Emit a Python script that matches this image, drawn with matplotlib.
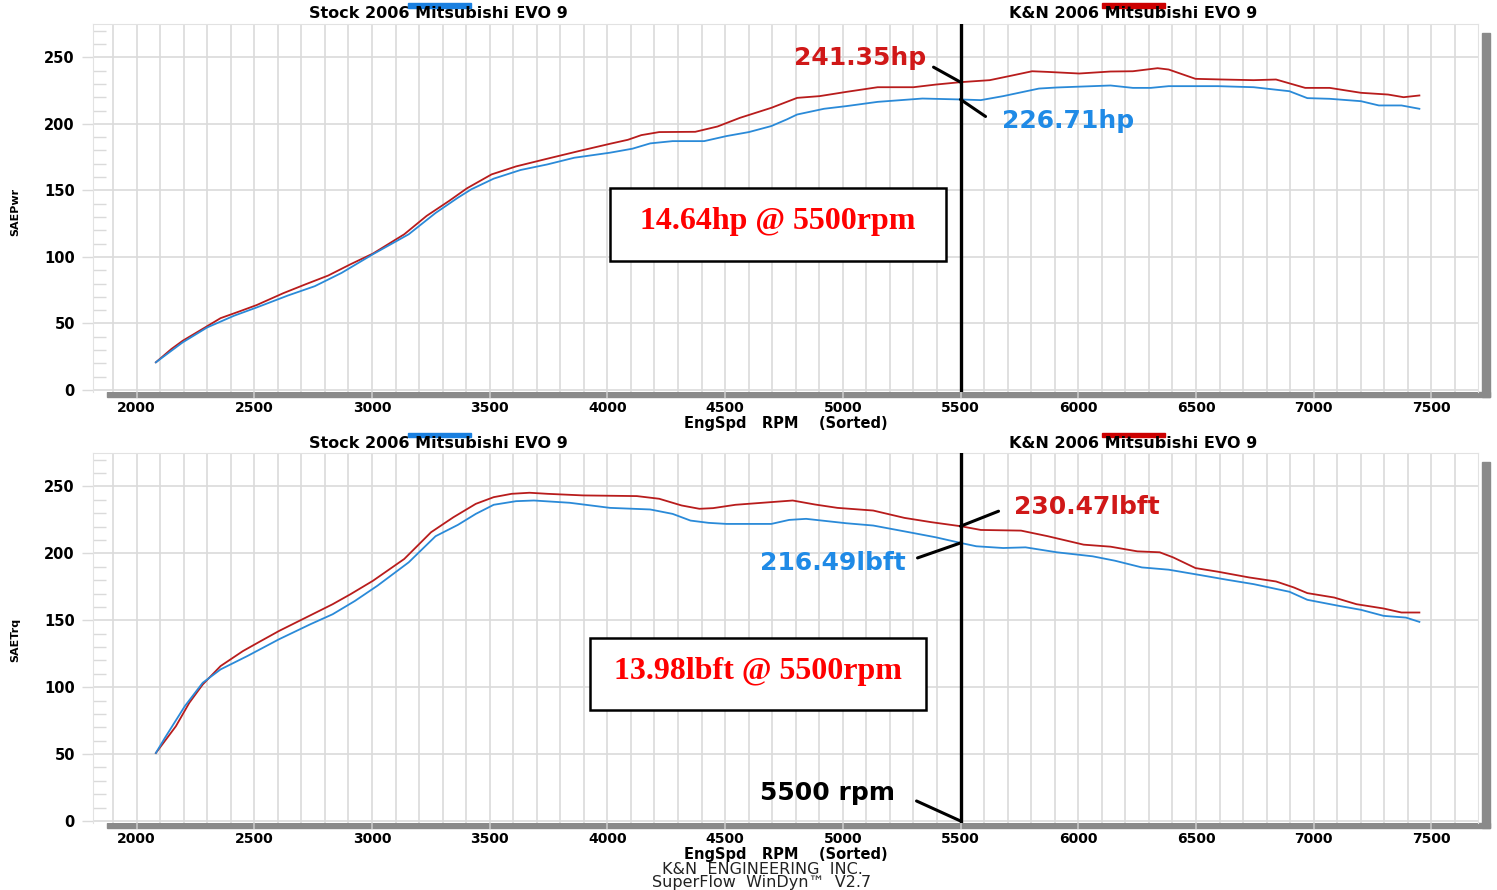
import numpy as np
import matplotlib
matplotlib.use("Agg")
import matplotlib.pyplot as plt
from matplotlib.patches import Rectangle

# ---------------- data ----------------
hp_rpm_kn = [2082, 2148, 2196, 2291, 2357, 2433, 2510, 2624, 2719, 2814, 2909, 3004, 3137, 3232, 3327,
             3403, 3508, 3612, 3745, 3878, 4011, 4087, 4144, 4220, 4373, 4468, 4563, 4696, 4806, 4901,
             5015, 5148, 5300, 5395, 5500, 5624, 5719, 5804, 5871, 6004, 6137, 6232, 6337, 6384, 6498,
             6612, 6745, 6840, 6964, 7068, 7201, 7316, 7382, 7449]
hp_kn = [20.8, 30.8, 37, 47, 54, 58.8, 63.8, 72.8, 79.5, 86, 94.5, 102.5, 117, 130.8, 142,
         151.5, 162, 168, 173.8, 179.5, 185, 188, 191.5, 193.8, 194, 198, 204.5, 212, 219.5, 220.8,
         224, 227.5, 227.5, 229.5, 231.3, 232.8, 236.3, 239.5, 239, 237.8, 239.3, 239.5, 241.8, 240.8, 233.8,
         233.3, 232.8, 233.3, 227, 227, 223.3, 222, 220, 221.3]

hp_rpm_stock = [2082, 2196, 2300, 2414, 2510, 2643, 2757, 2871, 3004, 3156, 3270, 3365, 3422, 3517, 3631,
                3745, 3859, 4011, 4106, 4182, 4277, 4411, 4506, 4601, 4696, 4762, 4806, 4920, 5015, 5148,
                5338, 5500, 5586, 5681, 5833, 5909, 6061, 6137, 6232, 6308, 6384, 6593, 6745, 6897, 6973,
                7068, 7201, 7277, 7373, 7449]
hp_stock = [20.8, 35.8, 47, 55.8, 62, 71, 78, 88, 102, 117, 133, 144.5, 150.8, 158.8, 165.3,
            169.5, 174.5, 178.3, 181.3, 185.3, 187, 187, 190.8, 193.8, 198.3, 203.3, 207, 211.3, 213.3, 216.5,
            219, 218.3, 217.8, 220.8, 226.5, 227.3, 228.3, 228.8, 227, 227, 228.3, 228.3, 227.5, 224.5, 219.3,
            218.8, 217, 213.8, 213.8, 211.3]

tq_rpm_kn = [2082, 2167, 2224, 2281, 2357, 2452, 2528, 2605, 2719, 2833, 2909, 3004, 3137, 3251, 3346,
             3441, 3517, 3593, 3669, 3745, 3897, 4125, 4220, 4315, 4391, 4449, 4544, 4696, 4787, 4882,
             4977, 5129, 5262, 5376, 5500, 5586, 5757, 5871, 6023, 6137, 6251, 6346, 6403, 6498, 6593,
             6726, 6840, 6916, 6973, 7087, 7182, 7297, 7373, 7449]
tq_kn = [50.8, 70.8, 88.3, 102, 115.8, 127, 134.5, 142, 152, 162, 169.5, 179.5, 195.8, 215.8, 227,
         237, 242, 244.5, 245.3, 244.5, 243.3, 242.8, 240.8, 235.8, 233.3, 233.8, 236.3, 238.3, 239.5, 236.5,
         234, 232, 226.5, 223.3, 220.3, 217.5, 217, 212.8, 206.5, 205, 201.5, 200.8, 197, 189, 186.3,
         182, 179, 174.5, 170.3, 167, 162, 158.8, 155.8, 155.8]

tq_rpm_stock = [2082, 2120, 2205, 2281, 2357, 2471, 2605, 2738, 2833, 2928, 3023, 3156, 3270, 3365, 3441,
                3517, 3612, 3688, 3840, 4011, 4182, 4277, 4353, 4430, 4506, 4696, 4772, 4844, 5015, 5129,
                5281, 5395, 5500, 5567, 5681, 5776, 5909, 6061, 6156, 6270, 6384, 6517, 6631, 6745, 6897,
                6973, 7106, 7201, 7297, 7392, 7449]
tq_stock = [50.8, 62, 85.8, 103.3, 113.3, 123.3, 135.8, 147, 154.5, 164.5, 175.8, 193.3, 212.8, 221.3, 229.5,
            236.3, 239, 239.5, 237.8, 234, 232.8, 229.5, 224.5, 222.8, 222, 222, 225, 225.8, 222.5, 220.8,
            215.8, 212, 207.8, 205.3, 204, 204.5, 200.8, 197.8, 194.5, 189.5, 187.8, 183.8, 180.3, 177, 171.3,
            165.3, 160.8, 157.8, 153.3, 152, 148.8]

x_ticks = [2000, 2500, 3000, 3500, 4000, 4500, 5000, 5500, 6000, 6500, 7000, 7500]
y_ticks = [0, 50, 100, 150, 200, 250]
mark_rpm = 5500
series_names = ["Stock 2006 Mitsubishi EVO 9", "K&N 2006 Mitsubishi EVO 9"]
hp_labels = ["241.35hp", "226.71hp"]
tq_labels = ["230.47lbft", "216.49lbft"]
hp_gain = "14.64hp @ 5500rpm"
tq_gain = "13.98lbft @ 5500rpm"

# ---------------- figure ----------------
W, H = 1497, 890
fig = plt.figure(figsize=(W / 100, H / 100), dpi=100)
fig.patch.set_facecolor("white")

def fx(px):
    return px / W

def fy(py):
    return 1 - py / H

RED = "#b81c1c"
BLUE = "#2a8ad8"
GRID = "#dadada"
BAR = "#8a8a8a"
TXT_RED = "#d01818"
TXT_BLUE = "#1f8ae6"

ax_left, ax_right = 93, 1478
panels = [
    dict(top=24, bottom=392, ylabel="SAEPwr", ylab_y=212,
         stock=(hp_rpm_stock, hp_stock), kn=(hp_rpm_kn, hp_kn), title_y=14, bar_y=3, xlab_y=423),
    dict(top=453, bottom=823, ylabel="SAETrq", ylab_y=640,
         stock=(tq_rpm_stock, tq_stock), kn=(tq_rpm_kn, tq_kn), title_y=443, bar_y=432, xlab_y=854),
]

line_kw = dict(arrowstyle="-", lw=2.2, color="black", shrinkA=0, shrinkB=0)

axes = []
for p in panels:
    ax = fig.add_axes([fx(ax_left), fy(p["bottom"]), fx(ax_right) - fx(ax_left), (p["bottom"] - p["top"]) / H])
    ax.set_xlim(1815, 7698)
    ax.set_ylim(-1.5, 275)
    ax.set_xticks(x_ticks)
    ax.set_xticks(np.arange(1900, 7700, 100), minor=True)
    ax.set_yticks(y_ticks)
    ax.set_yticks(np.arange(0, 275, 10), minor=True)
    ax.grid(True, which="both", axis="x", color=GRID, lw=1.2)
    ax.grid(True, which="major", axis="y", color=GRID, lw=1.2)
    ax.set_axisbelow(True)
    for s in ax.spines.values():
        s.set_color("#e2e2e2")
    ax.spines["bottom"].set_visible(False)
    ax.tick_params(axis="x", which="major", direction="out", length=4, width=1.2, color="#c8c8c8", pad=2.5,
                   labelsize=10)
    ax.tick_params(axis="x", which="minor", length=0)
    ax.tick_params(axis="y", which="major", direction="out", length=8, width=1, color=GRID, pad=5,
                   labelsize=10.5)
    ax.tick_params(axis="y", which="minor", direction="in", length=9, width=1, color=GRID)
    for lab in ax.get_xticklabels() + ax.get_yticklabels():
        lab.set_fontweight("bold")

    ax.plot(p["kn"][0], p["kn"][1], color=RED, lw=1.3, zorder=3)
    ax.plot(p["stock"][0], p["stock"][1], color=BLUE, lw=1.3, zorder=3)
    ax.axvline(mark_rpm, color="black", lw=2.4, zorder=4)
    axes.append(ax)

    # 3D-like gray frame bars
    fig.add_artist(Rectangle((fx(107), fy(p["bottom"] + 5)), fx(1490) - fx(107), 5 / H,
                             transform=fig.transFigure, color=BAR, zorder=-1))
    fig.add_artist(Rectangle((fx(1482), fy(p["bottom"] + 5)), 8 / W, (p["bottom"] + 5 - p["top"] - 9) / H,
                             transform=fig.transFigure, color=BAR, zorder=-1))

    # titles with color bars
    fig.text(fx(438), fy(p["title_y"]), series_names[0], ha="center", va="center",
             fontsize=11.5, fontweight="bold")
    fig.add_artist(Rectangle((fx(408), fy(p["bar_y"] + 5)), 63 / W, 4.5 / H,
                             transform=fig.transFigure, color="#1a80e0"))
    fig.text(fx(1133), fy(p["title_y"]), series_names[1], ha="center", va="center",
             fontsize=11.5, fontweight="bold")
    fig.add_artist(Rectangle((fx(1102), fy(p["bar_y"] + 5)), 63 / W, 4.5 / H,
                             transform=fig.transFigure, color="#cc0000"))

    fig.text(fx(786), fy(p["xlab_y"]), "EngSpd   RPM    (Sorted)", ha="center", va="center",
             fontsize=10.5, fontweight="bold")
    fig.text(fx(15), fy(p["ylab_y"]), p["ylabel"], ha="center", va="center", rotation=90,
             fontsize=8, fontweight="bold")

ax1, ax2 = axes

# top annotations
ax1.annotate("", xy=(mark_rpm, np.interp(mark_rpm, hp_rpm_kn, hp_kn)), xytext=(-27, 15),
             textcoords="offset pixels", arrowprops=line_kw)
ax1.annotate("", xy=(mark_rpm, np.interp(mark_rpm, hp_rpm_stock, hp_stock)), xytext=(25, -17),
             textcoords="offset pixels", arrowprops=line_kw)
fig.text(fx(860), fy(58), hp_labels[0], ha="center", va="center", fontsize=18, fontweight="bold",
         color=TXT_RED)
fig.text(fx(1068), fy(121), hp_labels[1], ha="center", va="center", fontsize=18, fontweight="bold",
         color=TXT_BLUE)

# bottom annotations
ax2.annotate("", xy=(mark_rpm, np.interp(mark_rpm, tq_rpm_kn, tq_kn)), xytext=(38, 15),
             textcoords="offset pixels", arrowprops=line_kw)
ax2.annotate("", xy=(mark_rpm, np.interp(mark_rpm, tq_rpm_stock, tq_stock)), xytext=(-43, -15),
             textcoords="offset pixels", arrowprops=line_kw)
ax2.annotate("", xy=(mark_rpm, 0), xytext=(-44, 20), textcoords="offset pixels", arrowprops=line_kw)
fig.text(fx(1087), fy(507), tq_labels[0], ha="center", va="center", fontsize=18, fontweight="bold",
         color=TXT_RED)
fig.text(fx(833), fy(563), tq_labels[1], ha="center", va="center", fontsize=18, fontweight="bold",
         color=TXT_BLUE)
fig.text(fx(828), fy(793), "5500 rpm", ha="center", va="center", fontsize=18, fontweight="bold",
         color="black")

# gain boxes
for (x0, y0, x1, y1, txt) in [(610, 188, 946, 261, hp_gain), (590, 638, 926, 710, tq_gain)]:
    fig.add_artist(Rectangle((fx(x0), fy(y1)), (x1 - x0) / W, (y1 - y0) / H, transform=fig.transFigure,
                             facecolor="white", edgecolor="black", lw=1.8, zorder=6))
    t = fig.text(fx((x0 + x1) / 2), fy((y0 + y1) / 2 - 3), txt, ha="center", va="center",
                 fontsize=23, fontweight="bold", color="#ff0000", family="Liberation Serif")
    t.set_zorder(7)

fig.text(fx(762), fy(869), "K&N  ENGINEERING  INC.", ha="center", va="center", fontsize=11.5,
         color="#222222")
fig.text(fx(762), fy(882), "SuperFlow  WinDyn\u2122  V2.7", ha="center", va="center", fontsize=11.5,
         color="#222222")

fig.savefig("out.png", dpi=100)
